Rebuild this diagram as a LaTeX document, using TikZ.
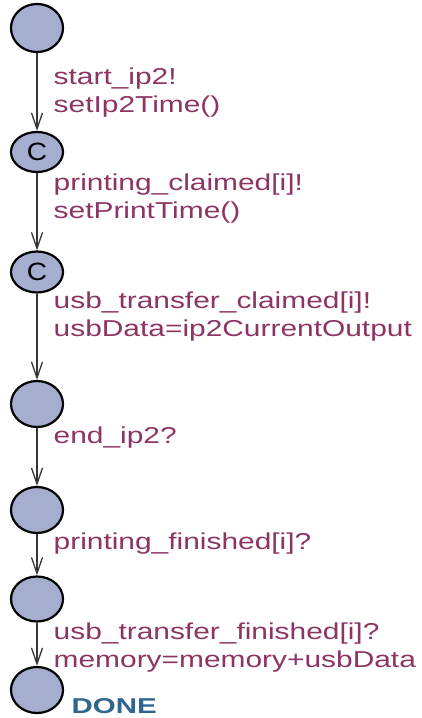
\documentclass[tikz,border=0pt]{standalone}
\usepackage{fontspec}
\setmainfont{Liberation Sans}
\usetikzlibrary{shapes.geometric,arrows.meta}
\definecolor{locfill}{RGB}{165,174,207}
\definecolor{labelcol}{RGB}{140,52,98}
\definecolor{namecol}{RGB}{46,102,142}
\definecolor{edgecol}{RGB}{55,55,55}
\newcommand\wideline[1]{\scalebox{1.3}[1]{#1}}
\tikzset{
  loc/.style={ellipse, draw=black, line width=2.2pt, fill=locfill,
    minimum width=52pt, inner sep=0pt, font=\fontsize{25}{25}\selectfont},
  edge/.style={draw=edgecol, line width=1.4pt,
    -{Straight Barb[length=16pt, width=11pt, line width=1.3pt]}},
  lab/.style={anchor=base west, inner sep=0pt, text=labelcol,
    font=\fontsize{23}{28}\selectfont},
  locname/.style={anchor=base west, inner sep=0pt, text=namecol,
    font=\fontsize{21.5}{24}\selectfont\bfseries}
}
\begin{document}
\begin{tikzpicture}[x=1pt, y=-1pt]
  \useasboundingbox (0,0) rectangle (422,718);

  % locations
  \node[loc, minimum height=48pt] (n1) at (37,28) {};
  \node[loc, minimum height=40pt] (n2) at (37,152) {\scalebox{1.12}[1]{C}};
  \node[loc, minimum height=41pt] (n3) at (37,272) {\scalebox{1.12}[1]{C}};
  \node[loc, minimum height=46pt] (n4) at (37,404) {};
  \node[loc, minimum height=46pt] (n5) at (37,510) {};
  \node[loc, minimum height=45pt] (n6) at (37,599) {};
  \node[loc, minimum height=46pt] (n7) at (37,690) {};

  % transitions
  \draw[edge] (n1.south) -- (n2.north);
  \draw[edge] (n2.south) -- (n3.north);
  \draw[edge] (n3.south) -- (n4.north);
  \draw[edge] (n4.south) -- (n5.north);
  \draw[edge] (n5.south) -- (n6.north);
  \draw[edge] (n6.south) -- (n7.north);

  % synchronisations and updates
  \node[lab] (s1) at (53.5,84)  {\wideline{start\_ip2!}};
  \node[lab] (u1) at (53.5,112) {\wideline{setIp2Time()}};
  \node[lab] (s2) at (53.5,190) {\wideline{printing\_claimed[i]!}};
  \node[lab] (u2) at (53.5,218) {\wideline{setPrintTime()}};
  \node[lab] (s3) at (53.5,308) {\wideline{usb\_transfer\_claimed[i]!}};
  \node[lab] (u3) at (53.5,336) {\wideline{usbData=ip2CurrentOutput}};
  \node[lab] (s4) at (53.5,443) {\wideline{end\_ip2?}};
  \node[lab] (s5) at (53.5,549) {\wideline{printing\_finished[i]?}};
  \node[lab] (s6) at (53.5,639) {\wideline{usb\_transfer\_finished[i]?}};
  \node[lab] (u6) at (53.5,667) {\wideline{memory=memory+usbData}};

  % location name
  \node[locname] (done) at (71.5,713) {\scalebox{1.37}[1]{DONE}};
\end{tikzpicture}
\end{document}
